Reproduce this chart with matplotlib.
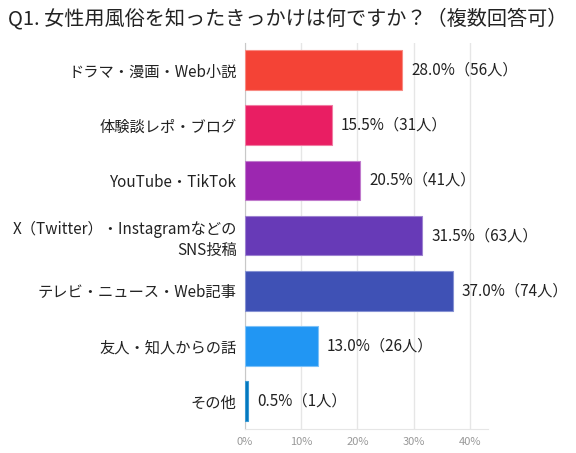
import matplotlib
matplotlib.use("Agg")
import matplotlib.pyplot as plt
from matplotlib.ticker import FuncFormatter

plt.rcParams["font.family"] = ["Noto Sans CJK JP", "DejaVu Sans"]

title = "Q1. 女性用風俗を知ったきっかけは何ですか？（複数回答可）"
categories = [
    "ドラマ・漫画・Web小説",
    "体験談レポ・ブログ",
    "YouTube・TikTok",
    "X（Twitter）・Instagramなどの\nSNS投稿",
    "テレビ・ニュース・Web記事",
    "友人・知人からの話",
    "その他",
]
percents = [28.0, 15.5, 20.5, 31.5, 37.0, 13.0, 0.5]
counts = [56, 31, 41, 63, 74, 26, 1]
colors = ["#F44336", "#E91E63", "#9C27B0", "#673AB7", "#3F51B5", "#2196F3", "#0277BD"]
edges = ["#F88A82", "#F07CA3", "#C07ACC", "#9D82D0", "#8591D3", "#7DC1F7", "#3A9AD4"]

fig = plt.figure(figsize=(5.76, 4.53), dpi=100)
ax = fig.add_axes([0.4253, 0.054, 0.4217, 0.852])

ypos = list(range(len(categories)))
ax.barh(ypos, percents, height=0.72, color=colors, edgecolor=edges, linewidth=0.8, zorder=3)

for y, p, c in zip(ypos, percents, counts):
    ax.text(p + 1.6, y, f"{p:.1f}%（{c}人）", va="center", ha="left",
            fontsize=11, color="#222222")

ax.set_yticks(ypos)
ax.set_yticklabels(categories, fontsize=11, color="#222222", linespacing=1.3)
ax.set_ylim(len(categories) - 0.5, -0.5)
ax.set_xlim(0, 43.2)
ax.set_xticks([0, 10, 20, 30, 40])
ax.xaxis.set_major_formatter(FuncFormatter(lambda v, _: f"{int(v)}%"))
ax.tick_params(axis="x", length=0, labelsize=8, labelcolor="#999999", pad=6)
ax.tick_params(axis="y", length=0, pad=6)
ax.grid(axis="x", color="#e6e6e6", linewidth=1.0, zorder=0)

for s in ["top", "right"]:
    ax.spines[s].set_visible(False)
ax.spines["left"].set_color("#c8c8c8")
ax.spines["bottom"].set_color("#e6e6e6")

fig.text(0.5, 0.96, title, ha="center", va="center", fontsize=14.5, color="#222222")

fig.savefig("out.png", dpi=100)
